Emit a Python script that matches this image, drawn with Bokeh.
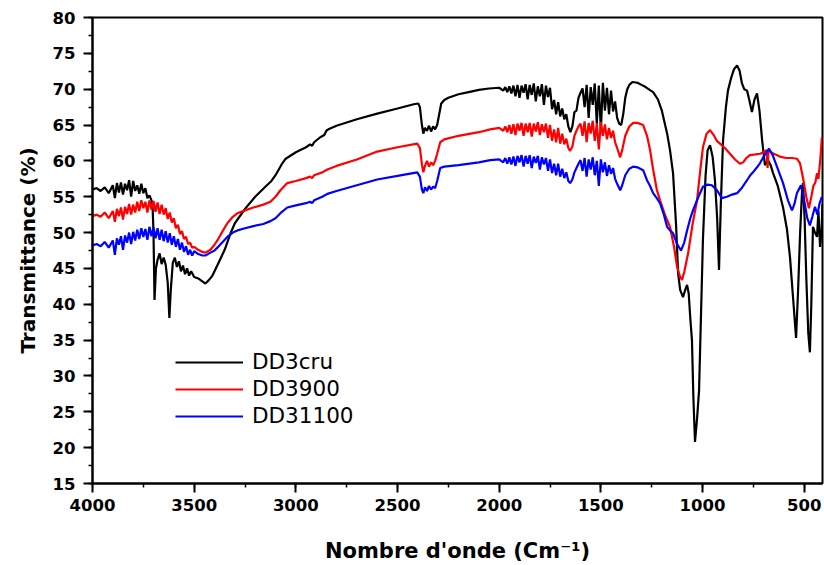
from bokeh.plotting import figure
from bokeh.models import Range1d, SingleIntervalTicker, Legend, LegendItem
from bokeh.embed import file_html
from bokeh.resources import INLINE

# ---------------- data ----------------
wn_cru = [4000, 3980, 3960, 3940, 3920, 3900, 3890, 3880, 3870, 3860, 3850, 3840, 3830, 3820, 3810,
          3800, 3790, 3780, 3770, 3760, 3750, 3740, 3730, 3720, 3710, 3705, 3700, 3695, 3688, 3680,
          3670, 3660, 3650, 3640, 3630, 3622, 3615, 3605, 3595, 3585, 3575, 3565, 3555, 3545, 3535,
          3525, 3515, 3500, 3480, 3460, 3445, 3430, 3410, 3400, 3380, 3350, 3320, 3300, 3250, 3200,
          3150, 3120, 3100, 3070, 3050, 3000, 2950, 2930, 2920, 2910, 2880, 2860, 2850, 2840, 2800,
          2700, 2600, 2500, 2420, 2398, 2390, 2380, 2373, 2365, 2355, 2345, 2335, 2325, 2315, 2305,
          2295, 2285, 2270, 2250, 2200, 2150, 2100, 2050, 2000, 1980, 1970, 1960, 1950, 1940, 1930,
          1920, 1910, 1900, 1890, 1880, 1870, 1860, 1850, 1840, 1830, 1820, 1810, 1800, 1790, 1780,
          1770, 1760, 1750, 1740, 1730, 1720, 1710, 1700, 1690, 1680, 1670, 1660, 1650, 1640, 1630,
          1620, 1610, 1600, 1590, 1580, 1570, 1560, 1550, 1540, 1530, 1520, 1510, 1500, 1490, 1480,
          1470, 1460, 1450, 1440, 1430, 1420, 1410, 1400, 1390, 1380, 1370, 1360, 1345, 1320, 1300,
          1280, 1260, 1243, 1220, 1200, 1174, 1160, 1145, 1130, 1120, 1110, 1096, 1085, 1076, 1068,
          1060, 1052, 1045, 1037, 1027, 1017, 1008, 998, 985, 975, 963, 950, 939, 928, 919,
          910, 899, 885, 875, 860, 845, 830, 818, 806, 795, 781, 770, 757, 745, 732,
          720, 707, 693, 685, 678, 665, 653, 630, 604, 585, 570, 555, 540, 530, 520,
          511, 506, 498, 490, 480, 472, 465, 457, 447, 437, 430, 422, 415, 410]
t_cru = [56.0, 56.2, 55.8, 56.3, 55.5, 56.6, 54.8, 56.9, 55.6, 57.0, 55.3, 56.8, 55.9, 57.3, 55.0,
         57.2, 55.8, 56.6, 55.4, 56.8, 55.5, 56.2, 54.8, 55.2, 54.5, 54.0, 50.0, 40.6, 45.0, 46.2,
         47.1, 45.6, 46.5, 45.5, 43.0, 38.1, 42.0, 45.8, 46.5, 45.2, 46.0, 44.6, 45.4, 44.2, 45.0,
         44.0, 44.6, 43.8, 43.6, 43.2, 42.9, 43.3, 44.0, 44.6, 45.8, 47.6, 50.0, 51.3, 53.3, 55.0,
         56.4, 57.2, 58.0, 59.5, 60.3, 61.2, 61.9, 62.3, 62.1, 62.6, 63.3, 63.6, 64.2, 64.4, 64.9,
         65.8, 66.6, 67.3, 67.9, 68.0, 67.5, 65.0, 63.8, 64.6, 64.2, 64.9, 64.1, 64.8, 64.4, 65.0,
         66.5, 68.0, 68.5, 68.8, 69.3, 69.6, 69.9, 70.1, 70.2, 69.8, 70.3, 69.6, 70.4, 69.4, 70.5,
         69.0, 70.6, 68.8, 70.5, 69.5, 70.7, 68.6, 70.6, 69.2, 70.8, 68.3, 70.4, 69.0, 70.7, 67.8,
         70.5, 68.9, 70.2, 67.2, 68.5, 66.5, 68.2, 66.2, 67.3, 65.8, 66.5, 64.8, 64.0, 64.8, 66.8,
         67.0, 68.8, 69.5, 70.1, 67.5, 70.6, 66.0, 70.3, 67.8, 70.8, 65.2, 70.5, 64.2, 70.9, 67.0,
         70.2, 66.5, 69.8, 66.9, 68.3, 66.0, 65.2, 65.0, 66.5, 68.8, 70.0, 70.6, 71.0, 70.9, 70.6,
         70.3, 69.9, 69.6, 68.6, 67.0, 63.8, 61.5, 58.3, 51.0, 44.3, 42.0, 41.0, 42.0, 42.7, 41.5,
         38.0, 35.0, 27.0, 20.8, 24.0, 28.0, 38.0, 49.0, 58.0, 61.5, 62.2, 60.5, 57.3, 52.0, 44.8,
         54.0, 62.9, 67.5, 69.8, 71.5, 72.8, 73.3, 72.6, 70.8, 70.0, 69.8, 68.5, 66.8, 68.5, 69.4,
         67.0, 62.9, 59.4, 59.8, 60.1, 59.4, 58.3, 56.5, 53.5, 50.5, 46.6, 41.0, 35.3, 42.0, 50.0,
         55.5, 56.9, 52.0, 44.0, 36.0, 33.3, 40.0, 50.8, 50.0, 49.4, 53.0, 48.0, 50.0, 54.0]

wn_900 = [4000, 3980, 3960, 3940, 3920, 3900, 3890, 3880, 3870, 3860, 3850, 3840, 3830, 3820, 3810,
          3800, 3790, 3780, 3770, 3760, 3750, 3740, 3730, 3720, 3710, 3700, 3690, 3680, 3670, 3660,
          3650, 3640, 3630, 3620, 3610, 3600, 3590, 3580, 3570, 3560, 3550, 3540, 3530, 3520, 3510,
          3500, 3480, 3460, 3445, 3420, 3400, 3386, 3360, 3337, 3310, 3287, 3250, 3209, 3160, 3125,
          3100, 3076, 3042, 3000, 2950, 2930, 2920, 2910, 2870, 2845, 2800, 2700, 2600, 2500, 2403,
          2390, 2380, 2373, 2365, 2355, 2345, 2335, 2325, 2315, 2305, 2290, 2270, 2200, 2100, 2044,
          2000, 1980, 1970, 1960, 1950, 1940, 1930, 1920, 1910, 1900, 1890, 1880, 1870, 1860, 1850,
          1840, 1830, 1820, 1810, 1800, 1790, 1780, 1770, 1760, 1750, 1740, 1730, 1720, 1710, 1700,
          1690, 1680, 1670, 1660, 1651, 1640, 1630, 1620, 1610, 1600, 1590, 1580, 1570, 1560, 1550,
          1540, 1530, 1520, 1510, 1500, 1490, 1480, 1470, 1460, 1450, 1440, 1430, 1420, 1405, 1395,
          1380, 1360, 1341, 1320, 1292, 1273, 1258, 1243, 1225, 1209, 1185, 1160, 1140, 1125, 1110,
          1101, 1090, 1071, 1050, 1027, 1010, 998, 980, 963, 945, 930, 914, 890, 865, 840,
          816, 800, 785, 767, 740, 717, 700, 685, 680, 676, 650, 619, 590, 560, 536,
          521, 505, 490, 477, 465, 455, 445, 437, 430, 420, 413]
t_900 = [52.3, 52.5, 52.2, 52.8, 52.0, 53.0, 51.5, 53.3, 52.3, 53.5, 51.8, 53.6, 52.6, 54.0, 52.5,
         53.9, 52.8, 54.3, 53.0, 54.5, 53.4, 54.3, 52.8, 54.5, 53.2, 54.4, 52.9, 54.2, 52.6, 53.9,
         52.5, 53.4, 51.9, 52.8, 51.4, 52.0, 50.6, 51.1, 49.8, 50.2, 49.1, 49.4, 48.4, 48.6, 47.9,
         48.0, 47.6, 47.3, 47.2, 47.6, 48.3, 48.9, 50.2, 51.3, 52.2, 52.7, 53.1, 53.5, 53.9, 54.3,
         55.0, 55.9, 56.9, 57.2, 57.6, 57.8, 57.6, 58.0, 58.4, 58.8, 59.3, 60.2, 61.3, 61.9, 62.4,
         61.8, 59.5, 58.4, 59.3, 60.0, 59.2, 59.8, 59.4, 60.0, 61.0, 62.6, 63.0, 63.5, 64.0, 64.4,
         64.6, 64.2, 64.8, 64.0, 65.0, 63.8, 65.1, 63.6, 65.2, 64.2, 65.3, 63.5, 65.2, 64.0, 65.3,
         63.4, 65.2, 64.1, 65.4, 63.6, 65.1, 64.0, 65.2, 63.2, 65.0, 62.8, 64.4, 62.6, 64.6, 62.4,
         63.8, 62.3, 63.1, 61.8, 61.4, 62.0, 63.5, 64.2, 64.8, 65.2, 63.5, 65.5, 62.6, 65.3, 63.8,
         65.6, 62.8, 65.2, 61.6, 65.4, 63.5, 65.1, 63.0, 64.6, 63.2, 64.2, 62.6, 61.8, 60.5, 61.5,
         63.5, 64.8, 65.3, 65.3, 65.0, 63.5, 61.5, 58.8, 56.0, 54.5, 52.5, 50.8, 48.0, 45.2, 43.8,
         43.4, 44.5, 47.1, 51.0, 54.5, 59.0, 61.9, 63.8, 64.3, 63.6, 62.8, 62.4, 61.8, 61.0, 60.2,
         59.6, 59.8, 60.4, 60.8, 60.9, 61.0, 61.2, 61.5, 59.0, 61.4, 61.0, 60.6, 60.4, 60.4, 60.3,
         59.7, 57.5, 55.0, 53.4, 55.0, 56.5, 57.0, 58.3, 57.5, 60.5, 63.3]

wn_1100 = [4000, 3980, 3960, 3940, 3920, 3900, 3890, 3880, 3870, 3860, 3850, 3840, 3830, 3820, 3810,
           3800, 3790, 3780, 3770, 3760, 3750, 3740, 3730, 3720, 3710, 3700, 3690, 3680, 3670, 3660,
           3650, 3640, 3630, 3620, 3610, 3600, 3590, 3580, 3570, 3560, 3550, 3540, 3530, 3520, 3510,
           3500, 3480, 3460, 3445, 3420, 3400, 3386, 3360, 3337, 3310, 3287, 3250, 3209, 3160, 3125,
           3100, 3076, 3042, 3000, 2950, 2930, 2920, 2910, 2870, 2845, 2800, 2700, 2600, 2500, 2403,
           2390, 2380, 2373, 2365, 2355, 2345, 2335, 2325, 2315, 2305, 2290, 2270, 2200, 2100, 2044,
           2000, 1980, 1970, 1960, 1950, 1940, 1930, 1920, 1910, 1900, 1890, 1880, 1870, 1860, 1850,
           1840, 1830, 1820, 1810, 1800, 1790, 1780, 1770, 1760, 1750, 1740, 1730, 1720, 1710, 1700,
           1690, 1680, 1670, 1660, 1651, 1640, 1630, 1620, 1610, 1600, 1590, 1580, 1570, 1560, 1550,
           1540, 1530, 1520, 1510, 1500, 1490, 1480, 1470, 1460, 1450, 1440, 1430, 1420, 1405, 1395,
           1380, 1360, 1341, 1320, 1292, 1273, 1258, 1243, 1225, 1209, 1190, 1174, 1160, 1145, 1125,
           1106, 1090, 1076, 1060, 1047, 1020, 998, 975, 954, 929, 905, 880, 855, 830, 805,
           781, 765, 752, 735, 717, 695, 673, 655, 634, 604, 580, 560, 548, 536, 516,
           500, 485, 472, 460, 447, 435, 425, 413]
t_1100 = [48.2, 48.4, 48.1, 48.7, 47.9, 48.9, 46.9, 49.2, 48.3, 49.5, 47.6, 49.6, 48.6, 50.0, 48.4,
          50.1, 48.9, 50.4, 49.1, 50.6, 49.4, 50.5, 49.0, 50.8, 49.5, 50.7, 49.2, 50.6, 49.0, 50.4,
          48.8, 50.2, 48.6, 49.9, 48.3, 49.5, 48.0, 49.1, 47.6, 48.6, 47.3, 48.1, 46.9, 47.6, 46.8,
          47.4, 47.0, 46.8, 46.8, 47.2, 47.5, 47.9, 48.7, 49.4, 50.0, 50.3, 50.6, 50.9, 51.2, 51.6,
          52.0, 52.7, 53.5, 53.8, 54.1, 54.3, 54.1, 54.5, 55.0, 55.4, 55.8, 56.6, 57.4, 57.9, 58.4,
          57.8, 56.0, 55.5, 56.3, 55.8, 56.5, 56.0, 56.4, 56.2, 57.2, 59.0, 59.2, 59.4, 59.8, 60.1,
          60.2, 59.8, 60.4, 59.6, 60.5, 59.5, 60.6, 59.3, 60.7, 59.8, 60.8, 59.2, 60.7, 59.6, 60.8,
          59.0, 60.6, 59.7, 60.7, 58.8, 60.5, 59.5, 60.4, 58.6, 60.2, 58.3, 59.6, 58.0, 59.6, 57.8,
          58.9, 57.6, 58.4, 57.2, 56.9, 57.4, 58.4, 59.0, 59.6, 60.1, 58.6, 60.4, 57.8, 60.2, 58.8,
          60.5, 58.0, 60.0, 56.5, 60.2, 58.4, 59.8, 57.9, 59.4, 58.2, 59.0, 57.5, 56.8, 55.9, 56.6,
          58.0, 58.9, 59.2, 59.1, 58.7, 57.3, 56.5, 55.5, 54.8, 54.1, 52.5, 50.8, 50.3, 49.9, 48.4,
          47.5, 48.6, 50.3, 52.0, 53.1, 55.0, 56.4, 56.7, 56.6, 55.9, 54.8, 55.0, 55.3, 55.5, 56.3,
          57.3, 58.0, 58.4, 59.0, 59.7, 60.8, 61.7, 60.8, 59.2, 56.9, 54.5, 53.1, 54.0, 55.5, 56.6,
          54.5, 52.0, 51.0, 52.2, 53.6, 52.5, 54.0, 55.0]

series_labels = ["DD3cru", "DD3900", "DD31100"]
series_colors = ["#000000", "#ff0000", "#0000ff"]

# ---------------- figure ----------------
BOLD_FONT = "DejaVu Sans"
LEG_FONT = "DejaVu Sans"

p = figure(width=824, height=565, output_backend="svg", toolbar_location=None,
           x_range=Range1d(4000, 410), y_range=Range1d(15, 80),
           min_border_left=92, min_border_right=2, min_border_top=17, min_border_bottom=82)

p.grid.visible = False
p.outline_line_color = "#000000"
p.outline_line_width = 2
p.background_fill_color = "#ffffff"
p.border_fill_color = "#ffffff"

r1 = p.line(wn_cru, t_cru, line_color=series_colors[0], line_width=2.2)
r2 = p.line(wn_900, t_900, line_color=series_colors[1], line_width=2.2)
r3 = p.line(wn_1100, t_1100, line_color=series_colors[2], line_width=2.2)

xa = p.xaxis[0]
xa.ticker = SingleIntervalTicker(interval=500, num_minor_ticks=2)
xa.axis_label = "Nombre d'onde (Cm\u207b\u00b9)"
ya = p.yaxis[0]
ya.ticker = SingleIntervalTicker(interval=5, num_minor_ticks=2)
ya.axis_label = "Transmittance (%)"

for ax in (xa, ya):
    ax.axis_line_width = 2
    ax.axis_line_color = "#000000"
    ax.major_tick_line_width = 2
    ax.minor_tick_line_width = 1.5
    ax.major_tick_out = 9
    ax.major_tick_in = 0
    ax.minor_tick_out = 4
    ax.minor_tick_in = 0
    ax.major_label_text_font = BOLD_FONT
    ax.major_label_text_font_style = "bold"
    ax.major_label_text_font_size = "16.5px"
    ax.major_label_text_color = "#000000"
    ax.axis_label_text_font = BOLD_FONT
    ax.axis_label_text_font_style = "bold"
    ax.axis_label_text_color = "#000000"

xa.axis_label_text_font_size = "21px"
ya.axis_label_text_font_size = "20px"
xa.major_label_standoff = 6
xa.axis_label_standoff = 25
ya.major_label_standoff = 8
ya.axis_label_standoff = 10

legend = Legend(items=[
    LegendItem(label=series_labels[0], renderers=[r1]),
    LegendItem(label=series_labels[1], renderers=[r2]),
    LegendItem(label=series_labels[2], renderers=[r3]),
], location=(83, 55))
legend.label_text_font = LEG_FONT
legend.label_text_font_size = "21.5px"
legend.label_text_color = "#000000"
legend.glyph_width = 68
legend.glyph_height = 20
legend.label_height = 20
legend.spacing = 2
legend.label_standoff = 9
legend.padding = 0
legend.margin = 0
legend.border_line_alpha = 0
legend.background_fill_alpha = 0
p.add_layout(legend, "center")

open("out.html", "w").write(file_html(p, INLINE))
